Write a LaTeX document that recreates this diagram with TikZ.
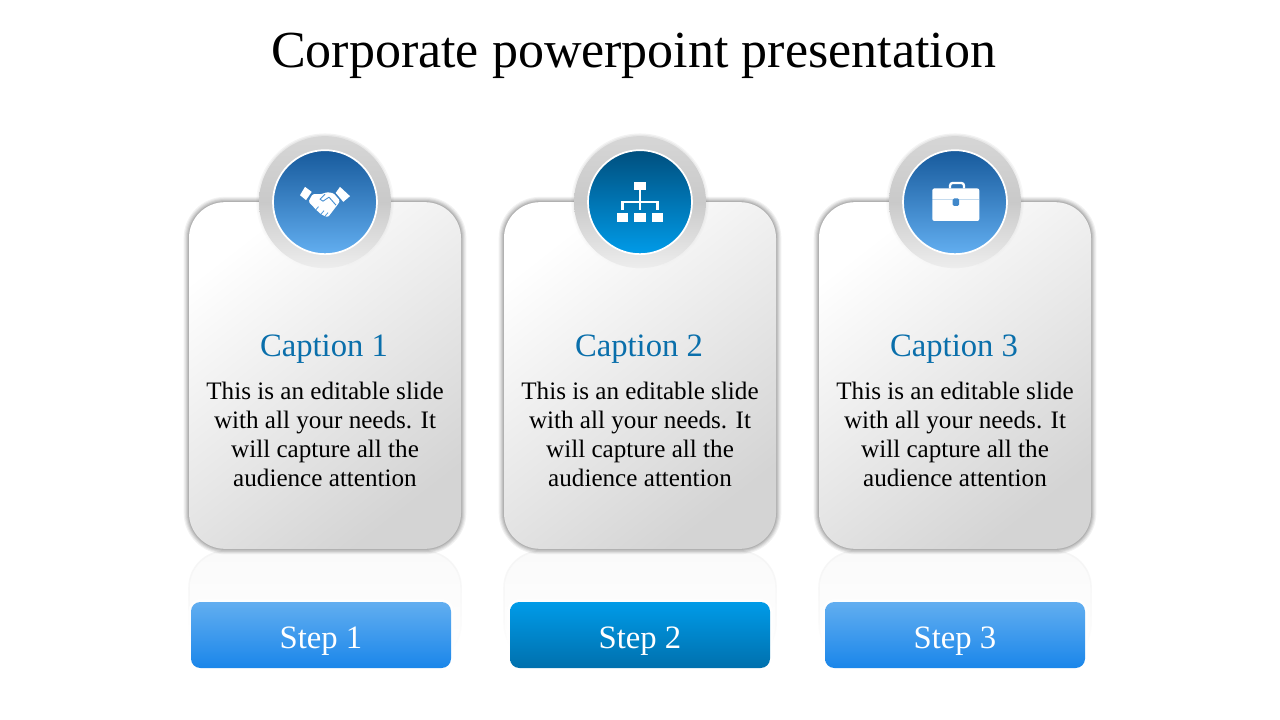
\documentclass[tikz,border=0pt]{standalone}
\usepackage{fontspec}
\setmainfont{Liberation Serif}
\usetikzlibrary{positioning,fadings}

\definecolor{capblue}{HTML}{0A6FAB}
\definecolor{navyA}{HTML}{175A9C}
\definecolor{skyA}{HTML}{62AEF0}
\definecolor{navyB}{HTML}{004F7E}
\definecolor{skyB}{HTML}{009BE8}
\definecolor{stepA}{HTML}{1A86EA}
\definecolor{stepB}{HTML}{0070AD}

\begin{document}
\begin{tikzpicture}[%
    x=.75pt,
    y=-.75pt,
    node distance=32.25pt,
    card/.style={%
      rectangle,
      outer sep=0pt,
      minimum width=204pt,
      minimum height=260pt,
      rounded corners=27pt,
      preaction={draw=black,opacity=.05,line width=8pt},
      preaction={draw=black,opacity=.06,line width=6.4pt},
      preaction={draw=black,opacity=.07,line width=4.8pt},
      preaction={draw=black,opacity=.08,line width=3.2pt},
      preaction={draw=black,opacity=.09,line width=1.6pt},
      top color=white,
      bottom color=black!17,
      shading angle=38
    },
    mirror/.style={%
      rectangle,
      outer sep=0pt,
      minimum width=204pt,
      minimum height=82pt,
      rounded corners=27pt,
      draw=black!4,
      line width=1.2pt,
      fill=black!2,
      path fading=south
    },
    ring/.style={%
      circle,
      inner sep=0pt,
      outer sep=0pt,
      minimum size=99pt,
      preaction={draw=black,opacity=.05,line width=4pt,path fading=south},
      preaction={draw=black,opacity=.05,line width=2pt,path fading=south},
      top color=black!16,
      bottom color=black!7,
      middle color=black!21
    },
    badge/.style={%
      circle,
      inner sep=0pt,
      outer sep=0pt,
      minimum size=78pt,
      draw=white,
      line width=1.3pt
    },
    stepbox/.style={%
      rectangle,
      outer sep=0pt,
      minimum width=195pt,
      minimum height=49.5pt,
      rounded corners=7pt,
      text=white,
      text height=20pt,
      text depth=0pt,
      font=\fontsize{24.5}{28}\selectfont,
      preaction={draw=white,opacity=.8,line width=4pt}
    },
    captext/.style={%
      text=capblue,
      font=\fontsize{24.5}{28}\selectfont
    },
    bodytext/.style={%
      align=center,
      font=\fontsize{18.85}{21.75}\selectfont
    }
  ]
    \useasboundingbox (0,0) rectangle (1280,720);

    \node (title) at (633.5,56) {\fontsize{39}{46}\selectfont Corporate powerpoint presentation};

    \node[mirror] (mirror1) at (325,606) {};
    \node[mirror] (mirror2) [right=of mirror1] {};
    \node[mirror] (mirror3) [right=of mirror2] {};

    \node[card] (card1) at (325,375.5) {};
    \node[card] (card2) [right=of card1] {};
    \node[card] (card3) [right=of card2] {};

    \node[ring] (ring1) at (card1.north) {};
    \node[ring] (ring2) at (card2.north) {};
    \node[ring] (ring3) at (card3.north) {};

    \node[badge,top color=navyA,bottom color=skyA] (badge1) at (card1.north) {};
    \node[badge,top color=navyB,bottom color=skyB] (badge2) at (card2.north) {};
    \node[badge,top color=navyA,bottom color=skyA] (badge3) at (card3.north) {};

    \node[captext] (cap1) at (324,349) {Caption 1};
    \node[captext] (cap2) at (639,349) {Caption 2};
    \node[captext] (cap3) at (954,349) {Caption 3};

    \node[bodytext] (text1) at (325,434.5) {This is an editable slide\\with all your needs. It\\will capture all the\\audience attention};
    \node[bodytext] (text2) at (640,434.5) {This is an editable slide\\with all your needs. It\\will capture all the\\audience attention};
    \node[bodytext] (text3) at (955,434.5) {This is an editable slide\\with all your needs. It\\will capture all the\\audience attention};

    \node[stepbox,top color=skyA,bottom color=stepA] (step1) at (321,635) {Step 1};
    \node[stepbox,top color=skyB,bottom color=stepB] (step2) at (640,635) {Step 2};
    \node[stepbox,top color=skyA,bottom color=stepA] (step3) at (955,635) {Step 3};

    % handshake
    \begin{scope}[shift={(badge1.center)}]
      \fill[white] (-20,-15.3) -- (-13.3,-10.3) -- (-19,-2) -- (-25,-7) -- cycle;
      \fill[white] (15,-15.3) -- (25,-6) -- (18.3,-.3) -- (10.7,-9.3) -- cycle;
      \fill[white,rounded corners=1pt] (-12.5,-8) -- (-4,-8) -- (2,-10) -- (8.5,-9) -- (15,-1.5)
        -- (13,2) -- (3,15) -- (0,14) -- (-4,12) -- (-9,7.5) -- (-16.5,-.5) -- cycle;
      \draw[navyA!35!skyA,line width=.7pt,line join=round] (0,-8) -- (-5,-3) -- (-2,-1) -- (4,-5) -- (11,3);
      \draw[navyA!25!skyA,line width=.6pt] (-9,7.5) -- (-6.5,4.5) (-4,12) -- (-1,8.5) (0,14) -- (3,10.5);
    \end{scope}

    % org chart
    \begin{scope}[shift={(badge2.center)}]
      \fill[white] (-6,-20) rectangle (6,-12);
      \fill[white] (-23.3,11.3) rectangle (-11.7,19.7);
      \fill[white] (-6,11.3) rectangle (6,19.7);
      \fill[white] (11.7,11.3) rectangle (23.3,19.7);
      \draw[white,line width=1.7pt] (0,-12) -- (0,8) (-17.5,8) -- (-17.5,0) -- (17.5,0) -- (17.5,8);
    \end{scope}

    % briefcase
    \begin{scope}[shift={(badge3.center)}]
      \fill[white,rounded corners=1.5pt] (-22.7,-13.7) rectangle (24.3,18.8);
      \draw[navyA!45!skyA,opacity=.3,line width=.5pt] (-22.7,-2.8) -- (24.3,-2.8);
      \draw[white,line width=1.7pt,rounded corners=2pt] (-5,-13.7) -- (-5,-19.2) -- (9,-19.2) -- (9,-13.7);
      \fill[navyA!45!skyA,rounded corners=1pt] (-2.3,-3.7) rectangle (4.2,3.7);
    \end{scope}
\end{tikzpicture}
\end{document}
